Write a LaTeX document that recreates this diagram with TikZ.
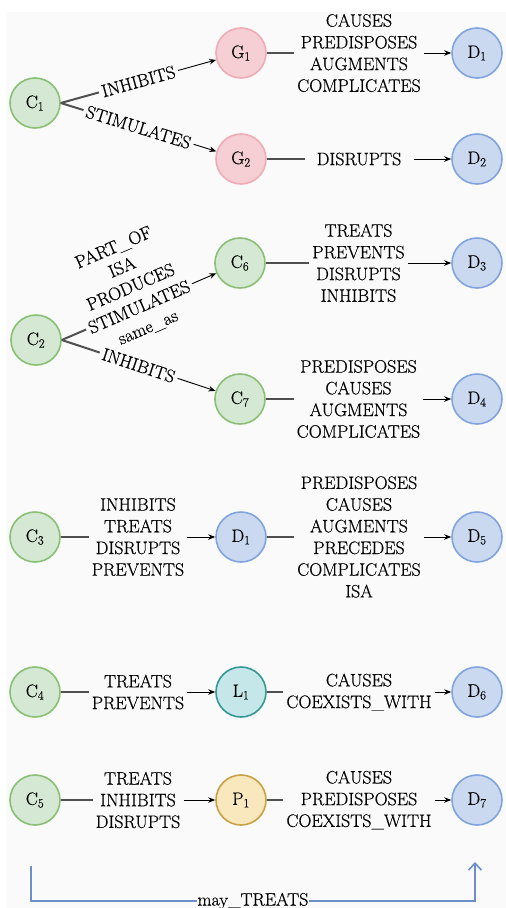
\documentclass[tikz,border=0pt]{standalone}
\usepackage{fontspec}
\usetikzlibrary{arrows.meta}
\newfontfamily\lblfont{lmroman17-regular.otf}[FakeBold=0.45]

% Colours
\definecolor{bgc}{RGB}{250,250,250}
\definecolor{grnfill}{RGB}{213,232,212}
\definecolor{grnline}{RGB}{136,192,116}
\definecolor{redfill}{RGB}{245,207,211}
\definecolor{redline}{RGB}{238,172,181}
\definecolor{blufill}{RGB}{202,217,240}
\definecolor{bluline}{RGB}{128,164,222}
\definecolor{tealfill}{RGB}{198,231,234}
\definecolor{tealline}{RGB}{52,152,148}
\definecolor{yelfill}{RGB}{249,232,190}
\definecolor{yelline}{RGB}{200,162,66}
\definecolor{mayline}{RGB}{108,142,201}
\definecolor{stubc}{RGB}{80,80,80}

\tikzset{
  ent/.style={circle, minimum size=50pt, inner sep=0pt, line width=1.6pt,
    font=\lblfont\fontsize{18}{20}\selectfont},
  chem/.style={ent, fill=grnfill, draw=grnline},
  gene/.style={ent, fill=redfill, draw=redline},
  dis/.style={ent, fill=blufill, draw=bluline},
  lab/.style={ent, fill=tealfill, draw=tealline},
  proc/.style={ent, fill=yelfill, draw=yelline},
  rel/.style={line width=0.9pt, -{Stealth[length=7pt,width=5.5pt]}},
  stub/.style={line width=2pt, stubc},
  lbl/.style={align=center, inner sep=3pt,
    font=\lblfont\fontsize{18}{21.7}\selectfont},
}

\begin{document}
\begin{tikzpicture}[x=1pt, y=-1pt]

    % Page and background
    \useasboundingbox (0,0) rectangle (506,908);
    \fill[bgc] (6,12) rectangle (506,908);

    % Nodes
    \node[chem] (c1) at (35,103) {C\textsubscript{1}};
    \node[gene] (g1) at (241,53) {G\textsubscript{1}};
    \node[gene] (g2) at (241,159) {G\textsubscript{2}};
    \node[dis] (d1a) at (477,53) {D\textsubscript{1}};
    \node[dis] (d2) at (477,159) {D\textsubscript{2}};

    \node[chem] (c2) at (36,340) {C\textsubscript{2}};
    \node[chem] (c6) at (240,263) {C\textsubscript{6}};
    \node[chem] (c7) at (240,399) {C\textsubscript{7}};
    \node[dis] (d3) at (477,263) {D\textsubscript{3}};
    \node[dis] (d4) at (477,399) {D\textsubscript{4}};

    \node[chem] (c3) at (35,537) {C\textsubscript{3}};
    \node[dis] (d1b) at (241,537) {D\textsubscript{1}};
    \node[dis] (d5) at (477,537) {D\textsubscript{5}};

    \node[chem] (c4) at (35,692) {C\textsubscript{4}};
    \node[lab] (l1) at (241,692) {L\textsubscript{1}};
    \node[dis] (d6) at (477,692) {D\textsubscript{6}};

    \node[chem] (c5) at (35,800) {C\textsubscript{5}};
    \node[proc] (p1) at (241,800) {P\textsubscript{1}};
    \node[dis] (d7) at (477,800) {D\textsubscript{7}};

    % Relation labels, first group
    \path (c1.east) -- node[lbl, sloped] (t1) {INHIBITS} (g1);
    \path (c1.east) -- node[lbl, sloped] (t2) {STIMULATES} (g2);
    \path (g1) -- node[lbl] (t3) {CAUSES\\PREDISPOSES\\AUGMENTS\\COMPLICATES} (d1a);
    \path (g2) -- node[lbl, inner xsep=12pt] (t4) {DISRUPTS} (d2);

    % second group
    \path (c2.east) -- node[lbl, sloped] (t5)
        {PART\_OF\\ISA\\PRODUCES\\STIMULATES\\same\_as\\\mbox{}\\\mbox{}} (c6);
    \path (c2.east) -- node[lbl, sloped] (t6) {INHIBITS} (c7);
    \path (c6) -- node[lbl] (t7) {TREATS\\PREVENTS\\DISRUPTS\\INHIBITS} (d3);
    \path (c7) -- node[lbl] (t8) {PREDISPOSES\\CAUSES\\AUGMENTS\\COMPLICATES} (d4);

    % third group
    \path (c3) -- node[lbl] (t9) {INHIBITS\\TREATS\\DISRUPTS\\PREVENTS} (d1b);
    \path (d1b) -- node[lbl] (t10)
        {PREDISPOSES\\CAUSES\\AUGMENTS\\PRECEDES\\COMPLICATES\\ISA} (d5);

    % fourth and fifth group
    \path (c4) -- node[lbl] (t11) {TREATS\\PREVENTS} (l1);
    \path (l1) -- node[lbl] (t12) {CAUSES\\COEXISTS\_WITH} (d6);
    \path (c5) -- node[lbl] (t13) {TREATS\\INHIBITS\\DISRUPTS} (p1);
    \path (p1) -- node[lbl] (t14) {CAUSES\\PREDISPOSES\\COEXISTS\_WITH} (d7);

    % Stubs and arrows
    \draw[stub] (c1.east) -- (t1);  \draw[rel] (t1) -- (g1);
    \draw[stub] (c1.east) -- (t2);  \draw[rel] (t2) -- (g2);
    \draw[stub] (g1) -- (t3);       \draw[rel] (t3) -- (d1a);
    \draw[stub] (g2) -- (t4);       \draw[rel] (t4) -- (d2);
    \draw[stub] (c2.east) -- (t5);  \draw[rel] (t5) -- (c6);
    \draw[stub] (c2.east) -- (t6);  \draw[rel] (t6) -- (c7);
    \draw[stub] (c6) -- (t7);       \draw[rel] (t7) -- (d3);
    \draw[stub] (c7) -- (t8);       \draw[rel] (t8) -- (d4);
    \draw[stub] (c3) -- (t9);       \draw[rel] (t9) -- (d1b);
    \draw[stub] (d1b) -- (t10);     \draw[rel] (t10) -- (d5);
    \draw[stub] (c4) -- (t11);      \draw[rel] (t11) -- (l1);
    \draw[stub] (l1) -- (t12);      \draw[rel] (t12) -- (d6);
    \draw[stub] (c5) -- (t13);      \draw[rel] (t13) -- (p1);
    \draw[stub] (p1) -- (t14);      \draw[rel] (t14) -- (d7);

    % may_TREATS link
    \coordinate (mstart) at (31,866);
    \coordinate (mend) at (475,862);
    \draw[mayline, line width=1.6pt, -{Straight Barb[length=7pt,width=13pt]}]
        (mstart) -- ++(0,35) -| node[lbl, pos=0.25, fill=bgc, text=black, inner sep=1pt]
        {may\_TREATS} (mend);

\end{tikzpicture}
\end{document}
